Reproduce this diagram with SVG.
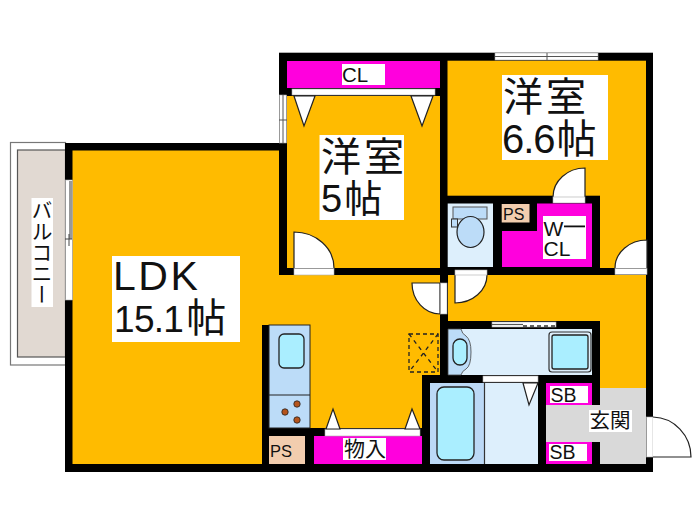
<svg xmlns="http://www.w3.org/2000/svg" width="700" height="525" viewBox="0 0 700 525">
<style>
.o{fill:#ffbb00}.k{fill:#000}.m{fill:#ff00dd}.w{fill:#fff}
.lb{fill:#ddeffc}.mb{fill:#bcd9f6}.c{fill:#aaeeff;stroke:#222;stroke-width:1.3}
.d{fill:#fff;stroke:#222;stroke-width:1.2}
.s{fill:#fff;stroke:#aaa;stroke-width:.6}
.p{fill:#f2cdae}
text{font-family:"Liberation Sans","Noto Sans CJK JP",sans-serif;fill:#111}
.j{font-family:"Noto Sans CJK JP","Liberation Sans",sans-serif}
</style>
<rect width="700" height="525" fill="#fff"/>
<g id="balcony">
<rect x="10.500" y="142.500" width="55" height="222.500" fill="#fff" stroke="#777" stroke-width="1.200"/>
<rect x="17.500" y="150" width="48" height="207" fill="#e1d9d2" stroke="#555" stroke-width="1.200"/>
<rect x="31.500" y="198" width="21.500" height="109" fill="#fff"/>
<text class="j" font-size="21" x="42" y="200" style="writing-mode:vertical-rl">バルコニー</text>
</g>
<g id="floor-plate">
<rect class="k" x="65" y="143" width="222" height="329"/>
<rect class="k" x="279" y="52.700" width="374" height="419.300"/>
</g>
<g id="room-ldk">
<path class="o" d="M72.500 150.500H279V275H440V375H422V428H310V325H262V464H72.500Z"/>
<rect class="w" x="112" y="256" width="128" height="86"/>
<text font-size="41" x="113" y="290" letter-spacing="2.500">LDK</text>
<text font-size="37" x="114" y="332" letter-spacing="-.7">15.1<tspan class="j" font-size="40" dx="3">帖</tspan></text>
<rect class="s" x="65.500" y="180" width="7" height="120"/>
<rect x="69" y="181" width="3" height="58" fill="#999"/>
<path d="M65 239H72M69 234V246" stroke="#444" fill="none"/>
<rect x="409" y="334" width="29" height="38" fill="none" stroke="#222" stroke-width="1.300" stroke-dasharray="4 3"/>
<path d="M409 334L438 372M438 334L409 372" fill="none" stroke="#222" stroke-width="1.300" stroke-dasharray="4 4"/>
<path class="d" d="M440 283V314A28 31 0 0 1 412 283Z"/>
<rect class="s" x="440.500" y="283" width="6.500" height="31"/>
</g>
<g id="kitchen">
<rect x="269" y="325" width="41" height="103" fill="#bcdcf8" stroke="#222"/>
<path d="M269 395H310" stroke="#222" stroke-width="1.200"/>
<rect class="c" x="279" y="334" width="25" height="34" rx="5"/>
<g fill="#b5541c" stroke="#222" stroke-width=".8">
<circle cx="297" cy="404" r="3.200"/><circle cx="285" cy="412" r="3.200"/><circle cx="297" cy="420" r="3.200"/>
</g>
</g>
<g id="ps-kitchen">
<rect class="p" x="269" y="436" width="36" height="28"/>
<text font-size="16.500" x="270" y="457">PS</text>
</g>
<g id="storage">
<rect class="m" x="314" y="436" width="108" height="28"/>
<rect class="s" x="325" y="429" width="95" height="7"/>
<path class="d" d="M326 429L333 409L340 429Z"/><path class="d" d="M405 429L412 409L420 429Z"/>
<rect class="w" x="343" y="438" width="43" height="22"/>
<text class="j" font-size="21" x="344" y="456">物入</text>
</g>
<g id="room-5">
<rect class="o" x="287" y="96" width="153" height="172"/>
<rect class="m" x="287" y="61" width="153" height="27"/>
<rect class="w" x="342" y="64" width="43" height="21"/>
<text font-size="20.500" x="342" y="82">CL</text>
<rect class="s" x="292" y="89" width="143" height="6"/>
<path class="d" d="M294 96H315L304 126Z"/><path class="d" d="M411 96H433L422 126Z"/>
<rect class="s" x="279.500" y="95" width="7" height="48"/>
<path d="M283 95V143M279 120H287" stroke="#555" fill="none"/>
<rect class="w" x="319.500" y="135" width="84.500" height="85"/>
<text class="j" font-size="40" x="321" y="171" letter-spacing="3">洋室</text>
<text font-size="38" x="321" y="212">5<tspan class="j" font-size="38" dx="2">帖</tspan></text>
<path class="d" d="M294 268V232A40 36 0 0 1 334 268"/>
<rect class="s" x="294" y="268.500" width="40" height="6.500"/>
</g>
<g id="room-66">
<rect class="o" x="447.500" y="60.700" width="198.500" height="135"/>
<rect class="o" x="600" y="195" width="46" height="73"/>
<rect class="s" x="495" y="53" width="103" height="7"/>
<path d="M495 56.500H598M547 53V60" stroke="#555" fill="none"/>
<rect class="w" x="502" y="75" width="106" height="85"/>
<text class="j" font-size="40" x="503" y="111" letter-spacing="3">洋室</text>
<text font-size="40" x="502" y="153" letter-spacing="-1">6.6<tspan class="j" font-size="40" dx="2">帖</tspan></text>
<path class="d" d="M585 197V168A32 29 0 0 0 553 197"/>
<rect class="s" x="553" y="197" width="32" height="6"/>
<path class="d" d="M647 268V240A32 28 0 0 0 615 268"/>
<rect class="s" x="615" y="268.500" width="32" height="6"/>
</g>
<g id="toilet">
<rect class="lb" x="447.700" y="203.500" width="45.300" height="63.500"/>
<rect x="453" y="207" width="34" height="12" fill="#bcdcf8" stroke="#555"/>
<rect x="451.500" y="219" width="6" height="8" fill="#bcdcf8" stroke="#333"/>
<ellipse cx="470.500" cy="232" rx="13.500" ry="15.500" fill="#bcdcf8" stroke="#222" stroke-width="1.200"/>
</g>
<g id="wcl">
<path class="m" d="M537 203.500H592V267H502V231H537Z"/>
<rect class="p" x="501.700" y="204" width="27.800" height="18.500"/>
<text font-size="16" x="503" y="220">PS</text>
<rect class="w" x="543" y="216" width="43" height="43"/>
<text font-size="21" x="543.500" y="236">W</text><rect x="564" y="225.500" width="21" height="1.800" fill="#111"/>
<text font-size="21" x="543.500" y="256">CL</text>
</g>
<g id="hall">
<rect class="o" x="448" y="275" width="198" height="46"/>
<rect class="o" x="600" y="321" width="46" height="67"/>
<path class="d" d="M455 275V303A32 28 0 0 0 487 275"/>
<rect class="s" x="455" y="270" width="32" height="5"/>
</g>
<g id="washroom">
<rect class="lb" x="448" y="329" width="144" height="46"/>
<path d="M448 329H461Q462 334 466 336Q471 340 471 352Q471 366 466 369Q462 371 461 375H448Z" fill="#bcdcf8" stroke="#444" stroke-width=".8"/>
<rect class="c" x="453" y="339" width="14" height="26" rx="7"/>
<rect x="549" y="332" width="42" height="40" rx="3" fill="#ddeffc" stroke="#333" stroke-width="1.200"/>
<rect class="c" x="552" y="335" width="36" height="34" rx="2"/>
<rect class="s" x="492" y="322" width="64" height="5"/>
<path d="M492 324.500H523" stroke="#555" stroke-width="1.200"/>
<path d="M523 326H556" stroke="#333" stroke-width="1.500" stroke-dasharray="4 3"/>
</g>
<g id="bath">
<rect class="mb" x="430" y="383" width="54" height="81"/>
<rect class="c" x="437" y="387" width="37" height="73" rx="7"/>
</g>
<g id="wash">
<rect class="lb" x="485" y="383" width="53" height="81"/>
<path d="M484.500 383V464" stroke="#333" stroke-width="1.200"/>
<rect class="s" x="483" y="376" width="55" height="6"/>
<path class="d" d="M523 383H538L529 405Z"/>
</g>
<g id="genkan">
<rect fill="#d9d9d9" x="600" y="388" width="46" height="76"/>
<rect fill="#d9d9d9" x="546" y="405" width="54" height="37"/>
<rect class="w" x="589" y="410" width="43" height="22"/>
<text class="j" font-size="20.500" x="589.500" y="428">玄関</text>
<rect class="s" x="646.500" y="417" width="6.500" height="40"/>
<path d="M653 417A39 40 0 0 1 691 457H653" fill="#fff" stroke="#222" stroke-width="1.200"/>
</g>
<g id="sb-top">
<rect class="m" x="546" y="383" width="46" height="22"/>
<rect class="w" x="550" y="386" width="38" height="17"/>
<text font-size="19.500" x="550.500" y="402">SB</text>
</g>
<g id="sb-bottom">
<rect class="m" x="546" y="442" width="46" height="22"/>
<rect class="w" x="549" y="444" width="38" height="17"/>
<text font-size="19.500" x="549.500" y="459">SB</text>
</g>
</svg>
